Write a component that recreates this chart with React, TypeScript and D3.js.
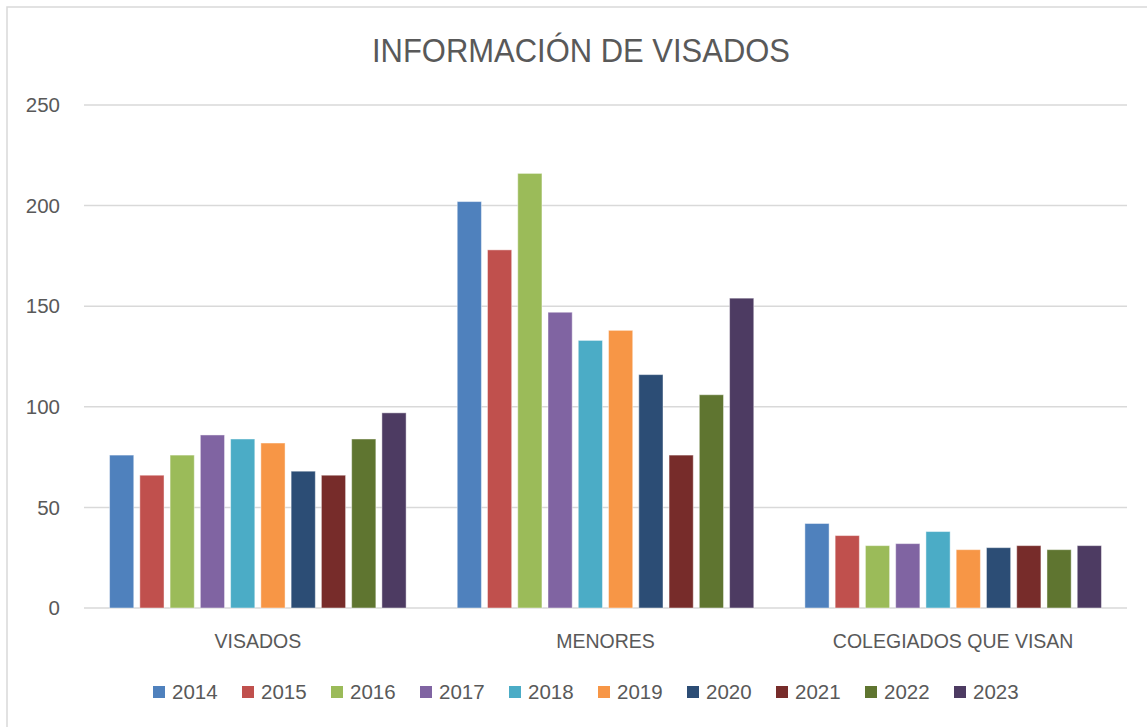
import React from "react";
import * as d3 from "d3";

const categories = ["VISADOS", "MENORES", "COLEGIADOS QUE VISAN"];
const years = ["2014", "2015", "2016", "2017", "2018", "2019", "2020", "2021", "2022", "2023"];
const visados = [76, 66, 76, 86, 84, 82, 68, 66, 84, 97];
const menores = [202, 178, 216, 147, 133, 138, 116, 76, 106, 154];
const colegiados = [42, 36, 31, 32, 38, 29, 30, 31, 29, 31];
const yTicks = [0, 50, 100, 150, 200, 250];
const colors = ["#4F81BD", "#C0504D", "#9BBB59", "#8064A2", "#4BACC6", "#F79646", "#2C4D75", "#772C2A", "#5F7530", "#4D3B62"];
const seriesByCategory = [visados, menores, colegiados];

const W = 1147;
const H = 727;
const FONT = "'Liberation Sans', Arial, sans-serif";
const TEXT = "#595959";

export default function App() {
  const left = 84, right = 1127, top = 105, bottom = 608;
  const y = d3.scaleLinear().domain([0, 250]).range([bottom, top]);
  const x0 = d3.scaleBand<string>().domain(categories).range([left, right]).paddingInner(0.147).paddingOuter(0.0735);
  const x1 = d3.scaleBand<string>().domain(years).range([0, x0.bandwidth()]).paddingInner(0.2);
  const legendX = d3.scaleBand<string>().domain(years).range([153, 153 + 89 * 10]);

  return (
    <svg width={W} height={H} style={{ position: "absolute", left: 0, top: 0, background: "#fff" }}>
      <rect x={0} y={0} width={W} height={H} fill="#fff" />
      <rect x={7} y={7} width={W + 20} height={H + 20} fill="none" stroke="#d9d9d9" strokeWidth={1.5} />
      <text x={581} y={62} textAnchor="middle" fontFamily={FONT} fontSize={34} fill={TEXT}
        textLength={418} lengthAdjust="spacingAndGlyphs">
        INFORMACIÓN DE VISADOS
      </text>
      {yTicks.map((t) => (
        <g key={t}>
          <line x1={left} x2={right} y1={y(t)} y2={y(t)} stroke="#d9d9d9" strokeWidth={1.5} />
          <text x={60} y={y(t)} dy="0.35em" textAnchor="end" fontFamily={FONT} fontSize={20.5} fill={TEXT}>
            {t}
          </text>
        </g>
      ))}
      {categories.map((c, ci) => (
        <g key={c} transform={`translate(${x0(c)},0)`}>
          {years.map((yr, i) => {
            const v = seriesByCategory[ci][i];
            return (
              <rect
                key={yr}
                x={x1(yr)}
                y={y(v)}
                width={x1.bandwidth()}
                height={y(0) - y(v)}
                fill={colors[i]}
                stroke="#ffffff"
                strokeOpacity={0.45}
                strokeWidth={1}
              />
            );
          })}
          <text x={x0.bandwidth() / 2} y={648} textAnchor="middle" fontFamily={FONT} fontSize={19.5} fill={TEXT}>
            {c}
          </text>
        </g>
      ))}
      {years.map((yr, i) => (
        <g key={yr} transform={`translate(${legendX(yr)},0)`}>
          <rect x={0} y={686} width={12} height={12} fill={colors[i]} />
          <text x={19} y={699} fontFamily={FONT} fontSize={20.5} fill={TEXT}>
            {yr}
          </text>
        </g>
      ))}
    </svg>
  );
}
